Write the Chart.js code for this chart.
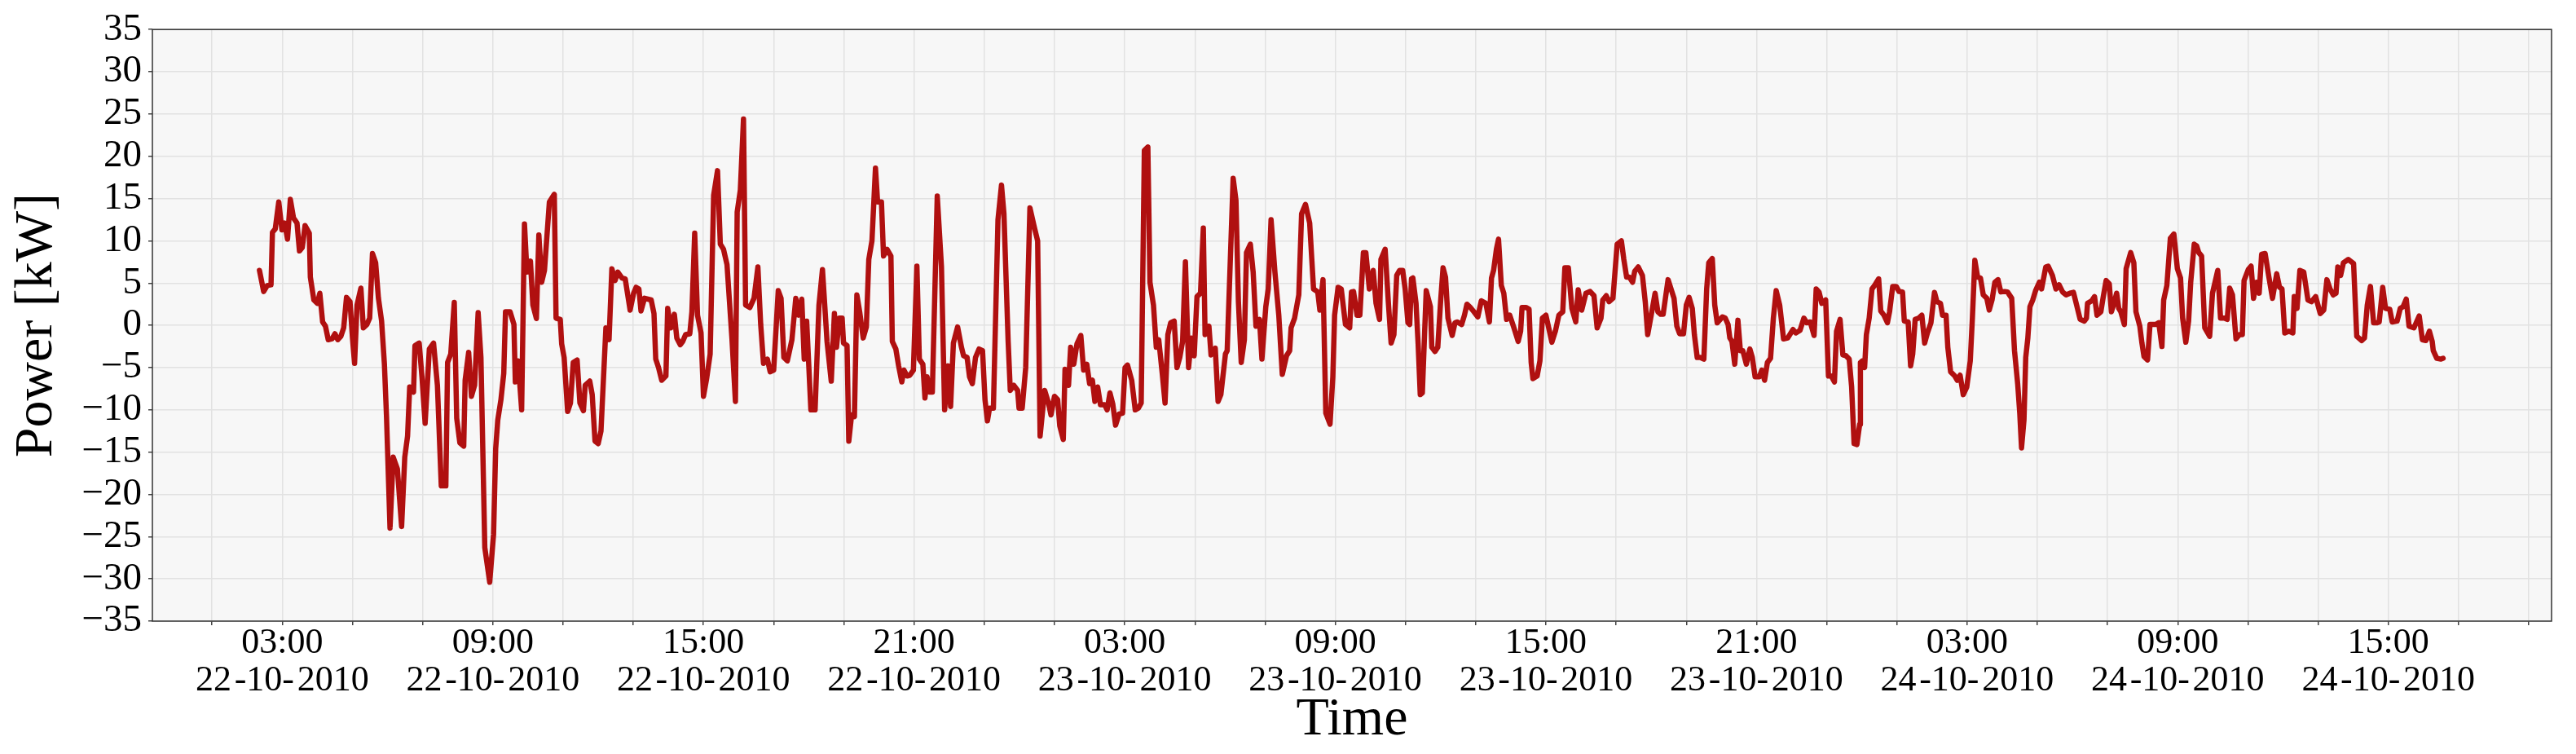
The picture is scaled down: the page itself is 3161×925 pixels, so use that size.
<!DOCTYPE html>
<html>
<head>
<meta charset="utf-8">
<title>Power</title>
<script src="https://cdn.jsdelivr.net/npm/chart.js@4.4.1/dist/chart.umd.min.js"></script>
<style>
  html, body { margin: 0; padding: 0; background: #fff; }
  #wrap { width: 3161px; height: 925px; }
</style>
</head>
<body>
<div id="wrap"><canvas id="power-chart"></canvas></div>
<script>
'use strict';

// Time of each reading, hours since 00:00 on 22-10-2010

const timeH = [
  2.35, 2.47, 2.57, 2.68, 2.72, 2.80, 2.90, 2.99, 3.07, 3.15, 3.23, 3.32, 3.42, 3.49, 3.57, 3.65, 3.77, 3.80, 3.90, 4.00,
  4.07, 4.15, 4.23, 4.31, 4.42, 4.50, 4.58, 4.67, 4.75, 4.83, 4.93, 5.00, 5.06, 5.13, 5.24, 5.31, 5.41, 5.49, 5.57, 5.66,
  5.74, 5.83, 5.91, 5.97, 6.07, 6.16, 6.28, 6.40, 6.49, 6.57, 6.63, 6.74, 6.78, 6.90, 6.98, 7.07, 7.19, 7.31, 7.42, 7.53,
  7.66, 7.71, 7.80, 7.90, 7.97, 8.06, 8.17, 8.21, 8.31, 8.39, 8.48, 8.58, 8.66, 8.77, 8.91,
  9.02, 9.08, 9.14, 9.23, 9.31, 9.36, 9.49, 9.60, 9.64, 9.72, 9.82, 9.90, 9.97, 10.07, 10.14, 10.24, 10.31, 10.39, 10.47, 10.61,
  10.75, 10.80, 10.92, 10.96, 11.03, 11.13, 11.21, 11.29, 11.40, 11.48, 11.58, 11.63, 11.76, 11.83, 11.91, 12.00, 12.08, 12.22, 12.31, 12.39,
  12.48, 12.56, 12.68, 12.77, 12.91, 13.01, 13.08, 13.16, 13.22, 13.32, 13.51, 13.59, 13.64, 13.72, 13.81, 13.93, 13.98, 14.07, 14.17, 14.24,
  14.34, 14.41, 14.49, 14.61, 14.67, 14.75, 14.83, 14.93, 15.00, 15.09, 15.19, 15.29, 15.40, 15.48, 15.57, 15.67, 15.81, 15.91, 15.96, 16.05,
  16.14, 16.20, 16.32, 16.44, 16.55, 16.63, 16.71, 16.82, 16.90, 17.00, 17.13, 17.21, 17.29, 17.39, 17.52, 17.63, 17.71, 17.80, 17.87, 17.94,
  18.06, 18.18, 18.29, 18.39, 18.52, 18.64, 18.73, 18.79, 18.87, 18.95, 18.99, 19.09, 19.14, 19.22, 19.30, 19.37, 19.45, 19.55, 19.64, 19.71,
  19.80, 19.90, 19.96, 20.07, 20.13, 20.23, 20.34, 20.38, 20.48, 20.56, 20.65, 20.71, 20.80, 20.88, 20.98, 21.08, 21.15, 21.25, 21.31, 21.37,
  21.44, 21.52, 21.66, 21.78, 21.87, 21.97, 22.04, 22.12, 22.24, 22.35, 22.41, 22.51, 22.58, 22.66, 22.75, 22.85, 22.95,
  23.02, 23.09, 23.15, 23.26, 23.39, 23.49, 23.56, 23.68, 23.74, 23.84, 23.95, 23.99, 24.08, 24.18, 24.30, 24.42, 24.52, 24.59, 24.72, 24.83,
  24.90, 25.00, 25.09, 25.15, 25.25, 25.30, 25.40, 25.46, 25.55, 25.64, 25.75, 25.83, 25.92, 26.00, 26.08, 26.15, 26.23, 26.31, 26.43, 26.50,
  26.58, 26.66, 26.74, 26.84, 26.94, 27.01, 27.08, 27.20, 27.30, 27.39, 27.47, 27.56, 27.66, 27.72, 27.82, 27.90, 27.97, 28.07, 28.15, 28.23,
  28.31, 28.41, 28.49, 28.57, 28.65, 28.73, 28.82, 28.90, 28.98, 29.06, 29.16, 29.24, 29.29, 29.40, 29.46, 29.58, 29.66, 29.74, 29.87, 29.92,
  30.09, 30.17, 30.24, 30.32, 30.41, 30.47, 30.58, 30.66, 30.74, 30.84, 30.91, 31.02, 31.09, 31.17, 31.28, 31.39, 31.49, 31.61, 31.70, 31.74,
  31.84, 31.96, 32.04, 32.15, 32.27, 32.38, 32.50, 32.56, 32.65, 32.73, 32.85, 32.93, 32.98, 33.08, 33.17, 33.29, 33.41, 33.46, 33.52, 33.62,
  33.70, 33.80, 33.87, 33.97, 34.08, 34.16, 34.26, 34.30, 34.42, 34.51, 34.59, 34.67, 34.75, 34.83, 34.92, 34.99, 35.07, 35.12, 35.17, 35.21,
  35.30, 35.36, 35.42, 35.48, 35.59, 35.71, 35.75, 35.84, 35.92, 36.00, 36.07, 36.14, 36.21, 36.33, 36.41, 36.47, 36.60, 36.68, 36.75, 36.83,
  36.95, 37.06, 37.16, 37.29, 37.39, 37.45, 37.51, 37.59, 37.65, 37.73, 37.80, 37.88, 37.97, 38.09, 38.21, 38.28, 38.32, 38.44, 38.52, 38.58,
  38.63, 38.75, 38.83, 38.90, 39.00, 39.08, 39.17, 39.27, 39.37, 39.48, 39.54, 39.64, 39.74, 39.85, 39.92, 40.02, 40.14, 40.26, 40.37, 40.46,
  40.57, 40.62, 40.72, 40.80, 40.91, 41.03, 41.15, 41.22, 41.30, 41.38, 41.47, 41.53, 41.63, 41.75, 41.83, 41.90, 42.00, 42.11, 42.19, 42.27,
  42.34, 42.48, 42.55, 42.65, 42.73, 42.81, 42.92, 43.00, 43.08, 43.17, 43.23, 43.31, 43.40, 43.50, 43.58, 43.64, 43.74, 43.81,
  43.88, 44.03, 44.11, 44.19, 44.24, 44.30, 44.38, 44.47, 44.54, 44.61, 44.71, 44.81, 44.88, 44.96, 45.08, 45.15, 45.23, 45.31, 45.40, 45.48,
  45.56, 45.66, 45.77, 45.89, 46.04, 46.12, 46.24, 46.35, 46.43, 46.53, 46.64, 46.70, 46.78, 46.86, 46.97, 47.05, 47.13, 47.22, 47.28, 47.38,
  47.46, 47.55, 47.64, 47.71, 47.78, 47.86, 47.94, 47.96, 48.02, 48.08, 48.13, 48.21, 48.29, 48.36, 48.48, 48.54, 48.63, 48.73, 48.79, 48.88,
  48.98, 49.06, 49.16, 49.21, 49.32, 49.39, 49.45, 49.52, 49.62, 49.71, 49.79, 49.87, 49.97, 50.07, 50.14, 50.24, 50.30, 50.40, 50.45, 50.53,
  50.65, 50.72, 50.80,
  50.89, 50.99, 51.09, 51.15, 51.22, 51.30, 51.38, 51.46, 51.56, 51.63, 51.71, 51.79, 51.88, 51.96, 52.07, 52.15, 52.27, 52.35, 52.44, 52.50,
  52.55, 52.62, 52.67, 52.73, 52.79, 52.87, 52.95, 53.06, 53.12, 53.24, 53.31, 53.43, 53.53, 53.62, 53.72, 53.82, 53.93, 54.03, 54.12, 54.22,
  54.34, 54.40, 54.43, 54.55, 54.63, 54.70, 54.81, 54.88, 54.96, 55.05, 55.11, 55.17, 55.26, 55.32, 55.38, 55.48, 55.53, 55.66, 55.75, 55.81,
  55.92, 55.98, 56.04, 56.14, 56.21, 56.37, 56.46, 56.55, 56.60, 56.69, 56.79, 56.89, 56.99, 57.08, 57.14, 57.23, 57.31, 57.37, 57.47, 57.54,
  57.60, 57.68,
  57.77, 57.91, 57.99, 58.14, 58.22, 58.33, 58.41, 58.48, 58.56, 58.66, 58.76, 58.84, 58.89, 59.01, 59.09, 59.16, 59.24, 59.32, 59.39, 59.49,
  59.59, 59.70, 59.82, 59.90, 59.97, 60.05, 60.17, 60.28, 60.32, 60.40, 60.48, 60.59, 60.71, 60.81, 60.93, 61.06, 61.16, 61.25, 61.34, 61.43,
  61.51, 61.56, 61.64, 61.72, 61.86, 62.01, 62.10, 62.24, 62.32, 62.40, 62.49, 62.58, 62.68, 62.74, 62.84, 62.92, 63.04, 63.11, 63.25, 63.34,
  63.42, 63.51, 63.59, 63.73, 63.88, 63.97, 64.07, 64.17, 64.25, 64.28, 64.38, 64.50, 64.56
];

// Power, kW

const powerKW = [
  6.5, 4.0, 4.7, 4.8, 11.0, 11.4, 14.6, 11.3, 12.1, 10.2, 14.9, 12.7, 12.1, 8.8, 9.2, 11.8, 10.9, 5.7, 3.0, 2.6,
  3.8, 0.4, -0.1, -1.7, -1.6, -1.0, -1.7, -1.3, -0.3, 3.3, 2.8, -1.5, -4.5, 2.4, 4.4, -0.3, 0.1, 0.85, 8.5, 7.4,
  3.2, 0.5, -4.6, -10.8, -24.0, -15.6, -17.0, -23.8, -15.6, -13.1, -7.3, -7.9, -2.4, -2.1, -6.1, -11.6, -2.8, -2.1, -7.1, -19.0,
  -19.0, -4.4, -3.4, 2.7, -11.0, -13.9, -14.3, -6.5, -3.2, -8.4, -7.1, 1.5, -3.8, -26.3, -30.4,
  -24.7, -14.6, -11.2, -8.8, -5.7, 1.6, 1.6, 0.1, -6.7, -4.2, -10.0, 12.0, 6.3, 7.6, 2.4, 0.8, 10.7, 5.1, 6.5, 14.6,
  15.5, 0.85, 0.7, -2.2, -3.8, -10.2, -9.2, -4.4, -4.1, -9.2, -10.1, -7.1, -6.6, -8.2, -13.7, -14.0, -12.5, -0.3, -1.7, 6.7,
  5.3, 6.3, 5.6, 5.5, 1.8, 3.8, 4.5, 4.3, 1.7, 3.2, 3.0, 1.4, -4.0, -5.0, -6.5, -6.0, 2.0, -0.3, 1.3, -1.5,
  -2.3, -1.9, -1.1, -1.0, 1.6, 10.9, 1.2, -0.9, -8.4, -6.3, -3.4, 15.4, 18.3, 9.6, 9.0, 7.2, -1.5, -9.0, 13.4, 16.0,
  24.4, 2.4, 2.1, 3.2, 6.9, 0.1, -4.5, -4.0, -5.5, -5.3, 4.1, 3.2, -3.8, -4.2, -1.7, 3.2, 1.2, 3.1, -4.0, 0.5,
  -10.0, -10.0, 2.4, 6.6, -1.9, -6.6, 1.4, -2.6, 0.85, 0.85, -2.1, -2.4, -13.7, -10.6, -10.8, 3.6, 1.6, -1.5, -0.2, 7.8,
  10.0, 18.6, 14.6, 14.6, 8.2, 9.0, 8.2, -1.9, -2.8, -4.8, -6.7, -5.3, -6.0, -5.9, -5.3, 7.0, -4.0, -4.6, -8.6, -6.1,
  -7.9, -7.9, 15.3, 6.9, -10.0, -4.8, -9.6, -2.1, -0.2, -2.6, -3.6, -3.8, -6.1, -6.9, -3.8, -2.8, -3.0,
  -8.8, -11.3, -9.8, -9.8, 12.5, 16.6, 13.2, -1.9, -7.7, -7.1, -7.7, -9.8, -9.8, -5.0, 13.9, 11.7, 10.0, -13.1, -7.7, -9.2,
  -10.6, -8.4, -8.8, -11.9, -13.5, -5.2, -7.1, -2.6, -4.6, -2.2, -1.2, -5.3, -4.6, -6.9, -6.5, -9.0, -7.3, -9.4, -9.4, -10.0,
  -8.0, -9.3, -11.8, -10.5, -10.4, -5.0, -4.7, -6.5, -10.0, -9.8, -9.2, 20.7, 21.1, 5.1, 2.4, -2.6, -1.7, -5.7, -9.2, -1.1,
  0.3, 0.5, -5.0, -3.8, -1.9, 7.5, -5.0, -1.5, -3.6, 3.4, 3.8, 11.5, -1.1, -0.1, -3.5, -2.7, -9.0, -8.2, -3.4, -3.0,
  17.4, 14.8, 2.8, -4.4, -1.7, 8.6, 9.6, 6.3, -0.1, 0.7, -4.0, 2.2, 4.3, 12.5, 6.3, 1.2, -5.8, -3.6, -3.0, -0.3,
  0.85, 3.6, 13.2, 14.3, 12.1, 4.3, 3.95, 1.8, 5.4, -10.4, -11.7, -6.1, 1.2, 4.5, 4.3, 0.1, -0.3, 3.95, 4.0, 1.2,
  1.2, 8.6, 8.6, 4.3, 6.5, 2.6, 0.7, 7.8, 9.0, 2.8, -2.1, -1.1, 5.9, 6.5, 6.5, 4.3, 0.3, 0.1, 5.5, 5.6,
  2.6, -2.2, -8.2, -8.0, 4.1, 2.2, -2.6, -3.1, -2.6, 2.8, 6.8, 5.7, 0.85, -1.2, 0.3, 0.4, 0.1, 1.2, 2.5, 2.2,
  1.6, 1.0, 2.9, 2.6, 0.4, 5.6, 6.5, 9.0, 10.2, 4.7, 3.8, 0.7, 1.2, -0.3, -1.9, -0.7, 2.1, 2.1, 1.9, -4.4,
  -6.3, -6.0, -4.2, 0.85, 1.2, -0.3, -2.0, -0.7, 1.2, 1.6, 6.8, 6.8, 2.0, 0.4, 4.2, 1.8, 3.8, 4.0, 3.5, -0.3,
  0.85, 3.0, 3.5, 2.8, 3.2, 9.6, 10.0, 7.8, 5.7, 5.7, 5.1, 6.4, 6.9, 5.9, 2.8, -1.1, 1.2, 3.8, 1.6, 1.3,
  1.3, 5.4, 4.5, 3.2, -0.1, -1.0, -1.0, 2.4, 3.3, 2.0, -1.1, -3.8, -3.8, -4.0, 4.3, 7.4, 7.9, 2.4,
  0.3, 1.0, 0.85, 0.1, -1.5, -1.9, -4.6, 0.6, -3.0, -3.0, -4.6, -2.8, -3.8, -6.1, -6.1, -5.3, -6.5, -4.4, -3.9, 0.85,
  4.1, 2.4, -1.6, -1.5, -0.5, -0.9, -0.6, 0.85, 0.3, 0.4, -1.2, 4.3, 3.95, 2.6, 3.0, -6.0, -6.0, -6.7, -0.7, 0.7,
  -3.5, -3.6, -4.0, -7.3, -14.0, -14.1, -11.7, -4.4, -4.2, -5.0, -1.1, 0.85, 4.3, 4.7, 5.5, 1.7, 1.2, 0.3, 1.6, 4.6,
  4.6, 4.0, 3.95, 0.5, 0.4, -4.8, -3.4, 0.7, 0.85, 1.2, -2.1, -0.9, 0.3, 3.9, 2.8, 2.6, 1.2, 1.2, -2.6, -5.5,
  -6.0, -6.5, -5.9,
  -8.2, -7.3, -4.2, 0.85, 7.7, 5.7, 5.6, 3.6, 3.2, 1.8, 3.0, 5.1, 5.4, 3.95, 4.0, 3.95, 3.2, -3.0, -6.9, -10.4,
  -14.5, -11.2, -3.8, -1.5, 2.2, 3.0, 4.1, 5.1, 4.3, 6.9, 7.0, 5.9, 4.3, 4.8, 3.95, 3.6, 3.8, 3.9, 2.4, 0.7,
  0.5, 0.85, 2.6, 2.9, 3.4, 1.2, 1.6, 3.4, 5.3, 4.9, 1.6, 2.4, 3.8, 2.0, 1.6, 0.1, 6.7, 8.6, 7.4, 1.6,
  -0.1, -2.1, -3.7, -4.1, 0.1, 0.1, 0.3, -2.5, 3.0, 4.7, 10.3, 10.8, 6.7, 5.6, 0.85, -2.0, 0.5, 5.1, 9.6, 9.4,
  8.6, 8.2,
  -0.3, -1.3, 3.8, 6.5, 0.85, 0.85, 0.7, 4.4, 3.6, -1.6, -1.1, -1.1, 5.3, 6.6, 7.0, 3.2, 5.1, 3.8, 8.4, 8.5,
  5.9, 3.2, 6.1, 4.5, 4.3, -0.9, -0.7, -0.9, 3.4, 2.0, 6.5, 6.3, 3.0, 2.8, 3.4, 1.4, 1.8, 5.4, 4.3, 3.6,
  3.8, 6.9, 5.9, 7.4, 7.8, 7.3, -1.3, -1.8, -1.5, 2.4, 4.6, 0.3, 0.3, 0.4, 4.5, 2.0, 1.9, 0.4, 0.5, 2.0,
  2.2, 3.1, -0.1, -0.3, 1.1, -1.7, -1.8, -0.7, -1.9, -3.0, -3.9, -4.0, -3.9
];

// Labelled ticks on the time axis (hours since 00:00 on 22-10-2010)

const tickHours = [3, 9, 15, 21, 27, 33, 39, 45, 51, 57, 63];
const tickTimes = ['03:00', '09:00', '15:00', '21:00', '03:00', '09:00', '15:00', '21:00', '03:00', '09:00', '15:00'];
const tickDates = ['22\u200A-10-\u200A2010', '22\u200A-10-\u200A2010', '22\u200A-10-\u200A2010', '22\u200A-10-\u200A2010',
                   '23\u200A-10-\u200A2010', '23\u200A-10-\u200A2010', '23\u200A-10-\u200A2010', '23\u200A-10-\u200A2010',
                   '24\u200A-10-\u200A2010', '24\u200A-10-\u200A2010', '24\u200A-10-\u200A2010'];

// Power axis ticks, kW

const yTicks = [-35, -30, -25, -20, -15, -10, -5, 0, 5, 10, 15, 20, 25, 30, 35];

const serif = "'Liberation Serif', 'Times New Roman', serif";

// Grey plot background and dark frame

const plotFrame = {
    id: 'plotFrame',
    beforeDraw(chart) {
        const {ctx, chartArea: a} = chart;
        ctx.save();
        ctx.fillStyle = '#f7f7f7';
        ctx.fillRect(a.left, a.top, a.right - a.left, a.bottom - a.top);
        ctx.restore();
    },
    afterDraw(chart) {
        const {ctx, chartArea: a} = chart;
        ctx.save();
        ctx.strokeStyle = '#333333';
        ctx.lineWidth = 1.5;
        ctx.strokeRect(a.left, a.top, a.right - a.left, a.bottom - a.top);
        ctx.restore();
    }
};

let points = [];
for (let i = 0; i < timeH.length; i++) {
    points.push({x: timeH[i], y: powerKW[i]});
}

new Chart(document.getElementById('power-chart'), {
    type: 'line',
    data: {
        datasets: [{
            label: 'Power',
            data: points,
            borderColor: '#b01010',
            borderWidth: 6.5,
            borderJoinStyle: 'round',
            borderCapStyle: 'round',
            pointRadius: 0,
            tension: 0,
            fill: false
        }]
    },
    options: {
        responsive: true,
        maintainAspectRatio: false,
        devicePixelRatio: 1,
        animation: false,
        layout: {padding: {top: 36, right: 30, bottom: 0, left: 0}},
        plugins: {legend: {display: false}, tooltip: {enabled: false}},
        scales: {
            x: {
                type: 'linear',
                min: -0.7,
                max: 67.65,
                afterBuildTicks: (scale) => {
                    // a tick every two hours, odd hours only
                    scale.ticks = [];
                    for (let h = 1; h <= 67; h += 2) scale.ticks.push({value: h});
                },
                afterFit: (scale) => { scale.height = 163; },
                ticks: {
                    autoSkip: false,
                    maxRotation: 0,
                    minRotation: 0,
                    padding: 0,
                    color: '#000',
                    font: {family: serif, size: 44, lineHeight: 1.03},
                    callback: (value) => {
                        const i = tickHours.indexOf(value);
                        return i < 0 ? '' : [tickTimes[i], tickDates[i]];
                    }
                },
                grid: {color: '#e2e2e2', lineWidth: 1.5, tickLength: 5, tickColor: '#444', tickWidth: 1.5},
                border: {display: false},
                title: {
                    display: true,
                    text: 'Time',
                    color: '#000',
                    font: {family: serif, size: 66, lineHeight: 1.2},
                    padding: {top: 0, bottom: 2}
                }
            },
            y: {
                min: -35,
                max: 35,
                afterBuildTicks: (scale) => {
                    scale.ticks = yTicks.map((v) => ({value: v}));
                },
                afterFit: (scale) => { scale.width = 187; },
                ticks: {
                    autoSkip: false,
                    padding: 8,
                    color: '#000',
                    font: {family: serif, size: 47},
                    callback: (value) => value < 0 ? '\u2212' + (-value) : String(value)
                },
                grid: {color: '#e2e2e2', lineWidth: 1.5, tickLength: 5, tickColor: '#444', tickWidth: 1.5},
                border: {display: false},
                title: {
                    display: true,
                    text: 'Power [kW]',
                    color: '#000',
                    font: {family: serif, size: 66, lineHeight: 1.2},
                    padding: {top: 6, bottom: 0}
                }
            }
        }
    },
    plugins: [plotFrame]
});
</script>
</body>
</html>
